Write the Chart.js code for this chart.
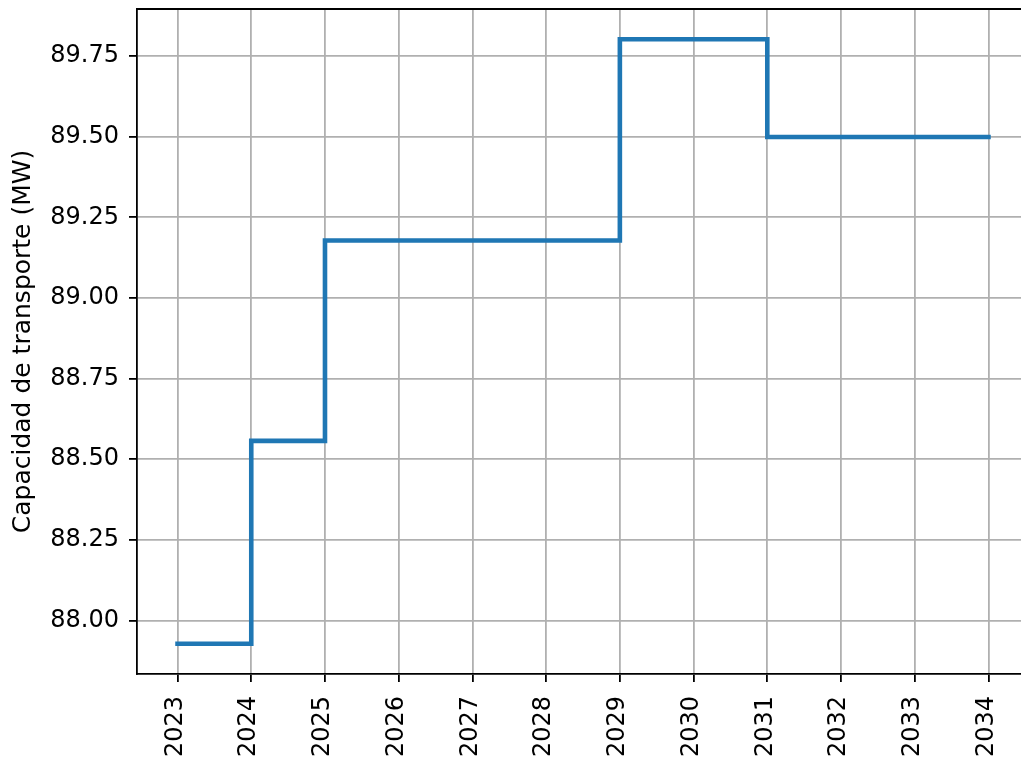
<!DOCTYPE html>
<html>
<head>
<meta charset="utf-8">
<script src="https://cdn.jsdelivr.net/npm/chart.js@4/dist/chart.umd.min.js"></script>
<style>
  html, body { margin: 0; padding: 0; overflow: hidden; background: #fff; }
  canvas { display: block; }
</style>
</head>
<body>
<canvas id="chart" width="1040" height="760" style="width:1040px;height:760px"></canvas>
<script>
// Transport capacity per year (MW), held constant until the next change
const years = [2023, 2024, 2025, 2026, 2027, 2028, 2029, 2030, 2031, 2032, 2033, 2034];
const capacity = [87.928, 88.557, 89.178, 89.178, 89.178, 89.178, 89.802, 89.802, 89.499, 89.499, 89.499, 89.499];
const yTicks = [88.00, 88.25, 88.50, 88.75, 89.00, 89.25, 89.50, 89.75];
const xTicks = years;
const yTitle = 'Capacidad de transporte (MW)';

// 5% margins around the data, in the usual plotting style
const yLo = Math.min(...capacity), yHi = Math.max(...capacity);
const yPad = (yHi - yLo) * 0.05;
const xLo = years[0], xHi = years[years.length - 1];
const xPad = (xHi - xLo) * 0.05;

const FONT = 'DejaVu Sans';
Chart.defaults.font.family = FONT;
Chart.defaults.color = '#000';

// Closes the frame along the top of the plot area
const framePlugin = {
  id: 'frameTop',
  afterDraw(chart) {
    const { ctx, chartArea } = chart;
    ctx.save();
    ctx.strokeStyle = '#000';
    ctx.lineWidth = 1.8;
    ctx.beginPath();
    ctx.moveTo(chartArea.left - 0.9, chartArea.top);
    ctx.lineTo(chartArea.right + 0.9, chartArea.top);
    ctx.stroke();
    ctx.restore();
  }
};

new Chart(document.getElementById('chart'), {
  type: 'line',
  data: {
    datasets: [{
      data: years.map((y, i) => ({ x: y, y: capacity[i] })),
      borderColor: '#1f77b4',
      borderWidth: 4.6,
      stepped: 'before',
      pointRadius: 0,
      fill: false,
      borderJoinStyle: 'miter',
      borderCapStyle: 'square',
      tension: 0
    }]
  },
  plugins: [framePlugin],
  options: {
    responsive: false,
    animation: false,
    devicePixelRatio: 1,
    layout: { padding: { top: 9, right: 11, left: 0, bottom: 0 } },
    plugins: {
      legend: { display: false },
      tooltip: { enabled: false }
    },
    scales: {
      x: {
        type: 'linear',
        min: xLo - xPad,
        max: xHi + xPad,
        afterBuildTicks: s => { s.ticks = xTicks.map(v => ({ value: v })); },
        afterFit: s => { s.height = 86; s.paddingLeft = 0; s.paddingRight = 0; },
        ticks: {
          autoSkip: false,
          minRotation: 90,
          maxRotation: 90,
          padding: 14,
          labelOffset: -2,
          font: { size: 24, family: FONT },
          color: '#000',
          callback: v => String(v)
        },
        grid: {
          color: '#b0b0b0',
          lineWidth: 1.8,
          drawTicks: true,
          tickLength: 8,
          tickColor: '#000',
          tickWidth: 1.8
        },
        border: { display: true, color: '#000', width: 1.8 }
      },
      y: {
        type: 'linear',
        min: yLo - yPad,
        max: yHi + yPad,
        afterBuildTicks: s => { s.ticks = yTicks.map(v => ({ value: v })); },
        afterFit: s => { s.width = 137; s.paddingTop = 0; s.paddingBottom = 0; },
        ticks: {
          padding: 10,
          font: { size: 24, family: FONT },
          color: '#000',
          callback: v => Number(v).toFixed(2)
        },
        grid: {
          color: '#b0b0b0',
          lineWidth: 1.8,
          drawTicks: true,
          tickLength: 8,
          tickColor: '#000',
          tickWidth: 1.8
        },
        border: { display: true, color: '#000', width: 1.8 },
        title: {
          display: true,
          text: yTitle,
          color: '#000',
          font: { size: 25, family: FONT },
          padding: { top: 8, bottom: 0 }
        }
      }
    }
  }
});
</script>
</body>
</html>
